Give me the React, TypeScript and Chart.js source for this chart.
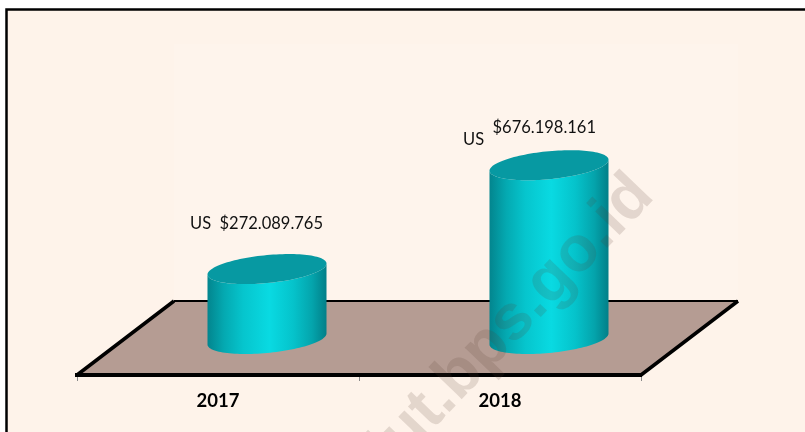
import { useEffect, useRef } from "react";
import { Chart, registerables } from "chart.js";

Chart.register(...registerables);

const categories = ["2017", "2018"];
const exportValues = [272089765, 676198161];
const currencyPrefix = "US";
const watermarkText = "sulut.bps.go.id";
const axisMax = 1000000000;

const formatValue = (v: number) => "$" + v.toString().replace(/\B(?=(\d{3})+(?!\d))/g, ".");

const DEPTH_X = 97;
const DEPTH_Y = 74;

const scene = {
  id: "scene",
  beforeDraw(chart: any) {
    const { ctx, width, height, chartArea: a } = chart;
    ctx.save();
    ctx.fillStyle = "#ffffff";
    ctx.fillRect(0, 0, width, height);
    ctx.fillStyle = "#FEF3EA";
    ctx.fillRect(6, 9, width - 6, height - 9);
    ctx.strokeStyle = "#000000";
    ctx.lineWidth = 2.5;
    ctx.beginPath();
    ctx.moveTo(6.5, height);
    ctx.lineTo(6.5, 9.5);
    ctx.lineTo(width, 9.5);
    ctx.stroke();
    // back wall
    ctx.fillStyle = "#FEF4EC";
    ctx.fillRect(a.left + DEPTH_X, a.top - DEPTH_Y, a.right - a.left, a.bottom - a.top);
    // floor
    const bx = a.left + DEPTH_X, by = a.bottom - DEPTH_Y;
    ctx.fillStyle = "#B59C93";
    ctx.beginPath();
    ctx.moveTo(a.left, a.bottom);
    ctx.lineTo(bx, by);
    ctx.lineTo(a.right + DEPTH_X, by);
    ctx.lineTo(a.right, a.bottom);
    ctx.closePath();
    ctx.fill();
    ctx.strokeStyle = "#000000";
    ctx.lineWidth = 2;
    ctx.beginPath();
    ctx.moveTo(bx, by);
    ctx.lineTo(a.right + DEPTH_X, by);
    ctx.stroke();
    ctx.lineWidth = 3.5;
    ctx.beginPath();
    ctx.moveTo(a.left, a.bottom);
    ctx.lineTo(bx, by);
    ctx.moveTo(a.right + DEPTH_X, by);
    ctx.lineTo(a.right, a.bottom);
    ctx.stroke();
    ctx.restore();
  },
  afterDatasetsDraw(chart: any) {
    const { ctx } = chart;
    const bars = chart.getDatasetMeta(0).data;
    bars.forEach((bar: any, i: number) => {
      const rx = bar.width / 2;
      const cx = bar.x + DEPTH_X / 2 + 0.5;
      const bottom = bar.base - DEPTH_Y / 2 + 1;
      const top = bar.y - DEPTH_Y / 2 + 1;
      const ry = 14;
      const tilt = 5.5;
      const px = (t: number) => cx + rx * Math.cos(t);
      const py = (c: number, t: number) => c + ry * Math.sin(t) - tilt * Math.cos(t);
      const grad = ctx.createLinearGradient(cx - rx, 0, cx + rx, 0);
      grad.addColorStop(0, "#03858E");
      grad.addColorStop(0.14, "#04A9B1");
      grad.addColorStop(0.3, "#06C5CD");
      grad.addColorStop(0.52, "#09DAE2");
      grad.addColorStop(0.72, "#05C3CB");
      grad.addColorStop(0.88, "#04A4AC");
      grad.addColorStop(1, "#027F88");
      ctx.save();
      ctx.fillStyle = grad;
      ctx.beginPath();
      for (let k = 0; k <= 60; k++) {
        const t = (Math.PI * k) / 60;
        ctx.lineTo(px(t), py(bottom, t));
      }
      for (let k = 0; k <= 60; k++) {
        const t = Math.PI - (Math.PI * k) / 60;
        ctx.lineTo(px(t), py(top, t));
      }
      ctx.closePath();
      ctx.fill();
      ctx.fillStyle = "#0799A2";
      ctx.beginPath();
      for (let k = 0; k <= 120; k++) {
        const t = (2 * Math.PI * k) / 120;
        ctx.lineTo(px(t), py(top, t));
      }
      ctx.closePath();
      ctx.fill();
      // labels
      ctx.fillStyle = "#111111";
      ctx.font = "16.5px Lato";
      ctx.textBaseline = "middle";
      ctx.textAlign = "left";
      const labelY = i === 0 ? bar.y - 81 : bar.y - 74;
      const prefixY = i === 0 ? labelY : labelY + 12;
      ctx.fillText(formatValue(exportValues[i]), bar.x + 1.5 - (i === 0 ? 0 : 9), labelY);
      ctx.fillText(currencyPrefix, bar.x - 28 - (i === 0 ? 0 : 9), prefixY);
      ctx.restore();
    });
    // watermark
    ctx.save();
    ctx.translate(640, 182);
    ctx.rotate(-Math.PI / 4 - 0.02);
    ctx.fillStyle = "rgba(90,60,50,0.16)";
    ctx.font = "bold 64px 'Liberation Sans'";
    ctx.textAlign = "right";
    ctx.textBaseline = "alphabetic";
    ctx.fillText(watermarkText, 0, 22);
    ctx.restore();
  },
};

export default function App() {
  const ref = useRef<HTMLCanvasElement | null>(null);
  useEffect(() => {
    if (!ref.current) return;
    document.body.style.margin = "0";
    const chart = new Chart(ref.current, {
      type: "bar",
      data: {
        labels: categories,
        datasets: [
          {
            data: exportValues,
            backgroundColor: "rgba(0,0,0,0)",
            borderWidth: 0,
            categoryPercentage: 1,
            barPercentage: 0.422,
          },
        ],
      },
      options: {
        responsive: false,
        animation: false,
        layout: { padding: { left: 77, right: 164, top: 118, bottom: 0 } },
        plugins: { legend: { display: false }, tooltip: { enabled: false } },
        scales: {
          x: {
            type: "category",
            afterFit: (s: any) => {
              s.height = 57;
            },
            grid: {
              drawOnChartArea: false,
              drawTicks: true,
              tickLength: 6,
              tickColor: "#8A8A8A",
              offset: true,
            },
            border: { display: true, color: "#000000", width: 4 },
            ticks: {
              color: "#000000",
              padding: 9,
              font: { family: "Lato", size: 18.5, weight: "bold" },
            },
          },
          y: { display: false, min: 0, max: axisMax },
        },
      },
      plugins: [scene],
    } as any);
    return () => chart.destroy();
  }, []);
  return (
    <canvas
      ref={ref}
      width={805}
      height={432}
      style={{ display: "block", width: 805, height: 432 }}
    />
  );
}
